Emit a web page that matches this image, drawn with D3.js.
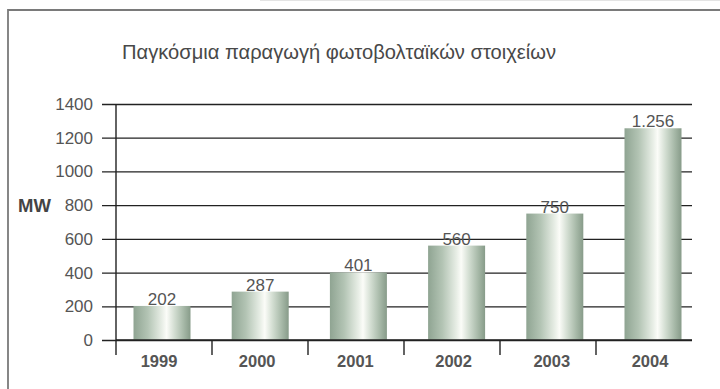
<!DOCTYPE html>
<html>
<head>
<meta charset="utf-8">
<script src="https://cdn.jsdelivr.net/npm/d3@7"></script>
<style>
  html, body { margin: 0; padding: 0; background: #fff; }
  svg { display: block; }
  text { font-family: "Liberation Sans", Arial, sans-serif; }
</style>
</head>
<body>
<svg id="chart" width="720" height="389"></svg>
<script>
// Global photovoltaic cell production, MW per year
const years = ["1999", "2000", "2001", "2002", "2003", "2004"];
const values = [202, 287, 401, 560, 750, 1256];
const valueLabels = ["202", "287", "401", "560", "750", "1.256"];
const yTicks = [0, 200, 400, 600, 800, 1000, 1200, 1400];
const titleText = "Παγκόσμια παραγωγή φωτοβολταϊκών στοιχείων";
const unitText = "MW";

const svg = d3.select("#chart");
const W = 720, H = 389;

const plot = { left: 116, right: 692, top: 104, bottom: 340 };

// Frame around the whole chart
svg.append("line").attr("x1", 260).attr("x2", W).attr("y1", 0.5).attr("y2", 0.5)
  .attr("stroke", "#e4e4e4").attr("stroke-width", 1);
svg.append("path")
  .attr("d", `M8,${H + 2} V10 H${W + 2}`)
  .attr("fill", "none").attr("stroke", "#7a7a7a").attr("stroke-width", 1.8);

// Title (narrow setting)
svg.append("text")
  .attr("x", 122).attr("y", 59)
  .attr("font-size", 21).attr("fill", "#484848")
  .attr("textLength", 434).attr("lengthAdjust", "spacingAndGlyphs")
  .text(titleText);

// Scales
const y = d3.scaleLinear().domain([0, 1400]).range([plot.bottom, plot.top]);
const xBand = d3.scaleBand().domain(years).range([plot.left, plot.right]);
const xBar = d3.scalePoint().domain(years).range([162, 653]);
const barW = 57;

// Bar gradient: grey-green edges, bright highlight right of centre
const defs = svg.append("defs");
const grad = defs.append("linearGradient").attr("id", "barGrad")
  .attr("x1", "0%").attr("x2", "100%").attr("y1", "0%").attr("y2", "0%");
[
  [0, "#8fa492"], [0.25, "#b3c4b4"], [0.5, "#e8eee6"], [0.58, "#fbfcf8"],
  [0.72, "#d2ddd1"], [0.88, "#a6b8a7"], [1, "#879b89"]
].forEach(([o, c]) => grad.append("stop").attr("offset", o).attr("stop-color", c));

// Horizontal gridlines with tick stubs to the left of the axis
const yAxis = d3.axisLeft(y).tickValues(yTicks).tickFormat(d3.format("d"))
  .tickSize(-(plot.right - plot.left)).tickSizeOuter(0);
const gy = svg.append("g").attr("transform", `translate(${plot.left},0)`).call(yAxis);
gy.select(".domain").remove();
gy.selectAll(".tick line")
  .attr("x1", -14)
  .attr("stroke", "#222").attr("stroke-width", 1.3);
gy.selectAll(".tick text")
  .attr("font-size", 17).attr("fill", "#555").attr("x", -23)
  .attr("font-family", "'Liberation Sans', Arial, sans-serif");

// Unit label
svg.append("text").attr("x", 18).attr("y", y(800) + 6.5)
  .attr("font-size", 18.5).attr("font-weight", "bold").attr("fill", "#444")
  .text(unitText);

// Bars
svg.append("g").selectAll("rect").data(values).join("rect")
  .attr("x", (d, i) => xBar(years[i]) - barW / 2)
  .attr("width", barW)
  .attr("y", d => y(d))
  .attr("height", d => y(0) - y(d))
  .attr("fill", "url(#barGrad)");

// Value labels above bars
svg.append("g").selectAll("text").data(values).join("text")
  .attr("x", (d, i) => xBar(years[i]))
  .attr("y", d => y(d) - 1)
  .attr("text-anchor", "middle")
  .attr("font-size", 17).attr("fill", "#555")
  .text((d, i) => valueLabels[i]);

// X axis line, vertical axis and category dividers
svg.append("line")
  .attr("x1", plot.left).attr("x2", plot.right)
  .attr("y1", y(0)).attr("y2", y(0))
  .attr("stroke", "#222").attr("stroke-width", 1.4);
svg.append("line")
  .attr("x1", plot.left).attr("x2", plot.left)
  .attr("y1", y(1400)).attr("y2", y(0) + 15)
  .attr("stroke", "#222").attr("stroke-width", 1.4);
svg.append("g").selectAll("line").data(years.slice(1)).join("line")
  .attr("x1", d => xBand(d)).attr("x2", d => xBand(d))
  .attr("y1", y(0)).attr("y2", y(0) + 15)
  .attr("stroke", "#222").attr("stroke-width", 1.4);

// Year labels
svg.append("g").selectAll("text").data(years).join("text")
  .attr("x", d => xBar(d) - 3)
  .attr("y", y(0) + 27)
  .attr("text-anchor", "middle")
  .attr("font-size", 16.5).attr("font-weight", "bold").attr("fill", "#555")
  .text(d => d);
</script>
</body>
</html>
